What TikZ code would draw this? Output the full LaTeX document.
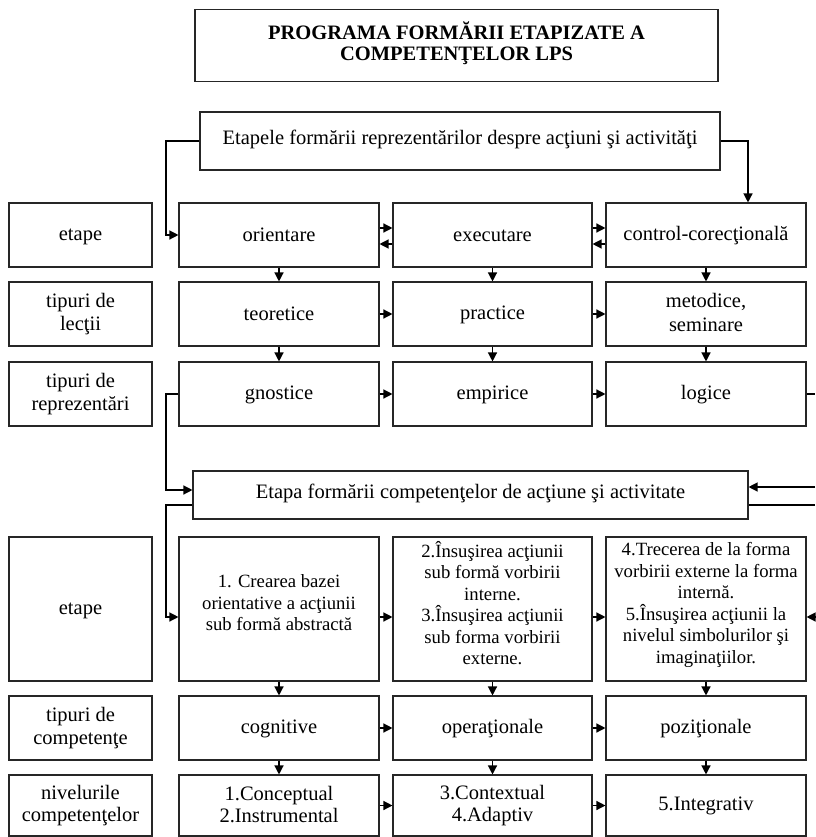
\documentclass[tikz,border=0pt]{standalone}
\usepackage{fontspec}
\setmainfont{Liberation Serif}
\usetikzlibrary{arrows.meta}
\newcommand\myStrutUp{\rule{0pt}{15pt}}
\newcommand\myStrutDn[1]{\rule[-#1]{0pt}{#1}}
\begin{document}
\begin{tikzpicture}[x=1pt,y=-1pt,
  box/.style={draw=black!85, line width=1.1pt, align=center, inner sep=1pt,
    font=\fontsize{20.5}{23.5}\selectfont,
    execute at begin node=\myStrutUp, execute at end node=\myStrutDn{3pt}},
  dep/.style={execute at end node=\myStrutDn{#1}},
  small/.style={font=\fontsize{18.7}{21.5}\selectfont, dep=12pt},
  lab/.style={box, minimum width=143pt},
  cA/.style={box, minimum width=200pt},
  cB/.style={box, minimum width=199pt},
  cC/.style={box, minimum width=200pt},
  arr/.style={line width=1.3pt, -{Triangle[length=9pt,width=9pt]}},
  ln/.style={line width=1.3pt}]
\useasboundingbox (0,0) rectangle (815,837);

% title
\node[box, font=\bfseries\fontsize{20.5}{21}\selectfont, dep=8pt, minimum width=523pt, minimum height=72pt]
  (title) at (456.5,45.5) {PROGRAMA FORMĂRII ETAPIZATE A\\COMPETENŢELOR LPS};

% first stage box
\node[box, dep=8pt, minimum width=520pt, minimum height=58pt] (etapele) at (460,141)
  {Etapele formării reprezentărilor despre acţiuni şi activităţi};

% row 1
\node[lab, minimum height=64pt] (L1) at (80.5,235) {etape};
\node[cA, minimum height=64pt] (o1) at (279,235) {orientare};
\node[cB, minimum height=64pt] (o2) at (492.5,235) {executare};
\node[cC, minimum height=64pt] (o3) at (706,235) {control-corecţională};

% row 2
\node[lab, minimum height=64pt] (L2) at (80.5,314) {tipuri de\\lecţii};
\node[cA, minimum height=64pt] (t1) at (279,314) {teoretice};
\node[cB, minimum height=64pt] (t2) at (492.5,314) {practice};
\node[cC, minimum height=64pt] (t3) at (706,314) {metodice,\\seminare};

% row 3
\node[lab, minimum height=64pt] (L3) at (80.5,394) {tipuri de\\reprezentări};
\node[cA, minimum height=64pt] (g1) at (279,394) {gnostice};
\node[cB, minimum height=64pt] (g2) at (492.5,394) {empirice};
\node[cC, minimum height=64pt] (g3) at (706,394) {logice};

% second stage box
\node[box, dep=9pt, minimum width=555pt, minimum height=48pt] (etapa) at (470.5,495)
  {Etapa formării competenţelor de acţiune şi activitate};

% row 4
\node[lab, minimum height=144pt] (L4) at (80.5,609) {etape};
\node[cA, small, minimum height=144pt] (s1) at (279,609)
  {1. Crearea bazei\\orientative a acţiunii\\sub formă abstractă};
\node[cB, small, minimum height=144pt] (s2) at (492.5,609)
  {2.Însuşirea acţiunii\\sub formă vorbirii\\interne.\\3.Însuşirea acţiunii\\sub forma vorbirii\\externe.};
\node[cC, small, minimum height=144pt] (s3) at (706,609)
  {4.Trecerea de la forma\\vorbirii externe la forma\\internă.\\5.Însuşirea acţiunii la\\nivelul simbolurilor şi\\imaginaţiilor.};

% row 5
\node[lab, minimum height=64pt] (L5) at (80.5,728) {tipuri de\\competenţe};
\node[cA, minimum height=64pt] (k1) at (279,728) {cognitive};
\node[cB, minimum height=64pt] (k2) at (492.5,728) {operaţionale};
\node[cC, minimum height=64pt] (k3) at (706,728) {poziţionale};

% row 6
\node[lab, minimum height=61pt, font=\fontsize{20.5}{22}\selectfont] (L6) at (80.5,805.5) {nivelurile\\competenţelor};
\node[cA, minimum height=61pt, font=\fontsize{20.5}{22}\selectfont] (n1) at (279,805.5) {1.Conceptual\\2.Instrumental};
\node[cB, minimum height=61pt, font=\fontsize{20.5}{22}\selectfont] (n2) at (492.5,805.5) {3.Contextual\\4.Adaptiv};
\node[cC, minimum height=61pt] (n3) at (706,805.5) {5.Integrativ};

% connectors from first stage box
\coordinate (la) at (166,141);
\coordinate (ra) at (748,141);
\draw[arr] (etapele.west) -- (la) |- (o1.west);
\draw[arr] (etapele.east) -- (ra) -- (ra |- o3.north);

% row 1 double arrows
\draw[arr] ([yshift=7pt]o1.east) -- ([yshift=7pt]o2.west);
\draw[arr] ([yshift=-9pt]o2.west) -- ([yshift=-9pt]o1.east);
\draw[arr] ([yshift=7pt]o2.east) -- ([yshift=7pt]o3.west);
\draw[arr] ([yshift=-9pt]o3.west) -- ([yshift=-9pt]o2.east);

% vertical arrows
\foreach \a/\b in {o1/t1,o2/t2,o3/t3,t1/g1,t2/g2,t3/g3,s1/k1,s2/k2,s3/k3,k1/n1,k2/n2,k3/n3}
  \draw[arr] (\a.south) -- (\b.north);

% horizontal arrows
\foreach \a/\b in {t1/t2,t2/t3,g1/g2,g2/g3,k1/k2,k2/k3,n1/n2,n2/n3}
  \draw[arr] (\a.east) -- (\b.west);
\draw[arr] ([yshift=-8pt]s1.east) -- ([yshift=-8pt]s2.west);
\draw[arr] ([yshift=-8pt]s2.east) -- ([yshift=-8pt]s3.west);

% left connectors to second stage
\coordinate (lb) at (166,394);
\draw[arr] (g1.west) -- (lb) |- ([yshift=5pt]etapa.west);
\coordinate (lc) at (166,505);
\draw[arr] ([yshift=-10pt]etapa.west) -- (lc) |- ([yshift=-8pt]s1.west);

% right edge connectors
\coordinate (e1) at (815,394);
\coordinate (e2) at (815,487);
\coordinate (e3) at (815,505);
\coordinate (e4) at (815,617);
\draw[ln] (g3.east) -- (e1);
\draw[arr] (e2) -- (e2 -| etapa.east);
\draw[ln] (e3 -| etapa.east) -- (e3);
\draw[arr] (e4) -- (e4 -| s3.east);
\end{tikzpicture}
\end{document}
